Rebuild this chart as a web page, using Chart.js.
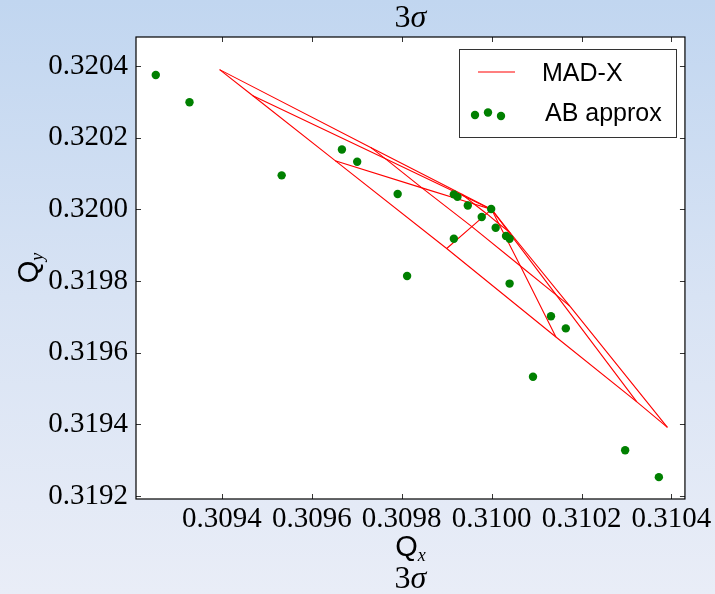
<!DOCTYPE html>
<html>
<head>
<meta charset="utf-8">
<script src="https://cdn.jsdelivr.net/npm/chart.js@4.4.1/dist/chart.umd.min.js"></script>
<style>
html, body { margin: 0; padding: 0; }
body {
  width: 715px; height: 594px; overflow: hidden;
  background: linear-gradient(to bottom, #c1d6f0 0%, #d8e3f4 50%, #e9edf7 100%);
}
canvas { display: block; }
</style>
</head>
<body>
<canvas id="fp" width="715" height="594"></canvas>
<script>
// footprint 3 sigma, MAD-X vs AB approx

// bare tunes (zero amplitude)
const tuneX0 = 0.3100;
const tuneY0 = 0.3200;

// MAD-X footprint points, angle 0..90 deg (15 deg steps), at 1, 2, 3 sigma
const madx1X = [0.309933, 0.309941, 0.309961, 0.309989, 0.310016, 0.310036, 0.310043];
const madx1Y = [0.320043, 0.320035, 0.320015, 0.319988, 0.319960, 0.319940, 0.319932];
const madx2X = [0.309731, 0.309764, 0.309845, 0.309956, 0.310064, 0.310144, 0.310174];
const madx2Y = [0.320173, 0.320141, 0.320060, 0.319952, 0.319842, 0.319761, 0.319730];
const madx3X = [0.309395, 0.309469, 0.309652, 0.309900, 0.310143, 0.310323, 0.310391];
const madx3Y = [0.320390, 0.320317, 0.320136, 0.319891, 0.319644, 0.319463, 0.319392];

// AB approximation
const abX = [0.309253, 0.309328, 0.309533, 0.309667, 0.309701, 0.309791, 0.309812, 0.309916,
             0.309916, 0.309924, 0.309947, 0.309978, 0.309999, 0.310009, 0.310032, 0.310040,
             0.310040, 0.310132, 0.310165, 0.310092, 0.310297, 0.310372];
const abY = [0.320375, 0.320299, 0.320095, 0.320167, 0.320133, 0.320043, 0.319814, 0.319918,
             0.320042, 0.320035, 0.320011, 0.319979, 0.320001, 0.319949, 0.319926, 0.319918,
             0.319793, 0.319702, 0.319668, 0.319533, 0.319328, 0.319253];

// axes
const xTicks = [0.3094, 0.3096, 0.3098, 0.3100, 0.3102, 0.3104];
const yTicks = [0.3192, 0.3194, 0.3196, 0.3198, 0.3200, 0.3202, 0.3204];
const xMin = 0.309209, xMax = 0.310430;
const yMin = 0.319192, yMax = 0.320481;

const serif = '"Liberation Serif", "DejaVu Serif", serif';
const sans = '"Liberation Sans", Arial, sans-serif';

function pts(xs, ys) {
  return xs.map((x, i) => ({ x: x, y: ys[i] }));
}

// lines of constant amplitude + lines of constant angle
let madxLines = [pts(madx1X, madx1Y), pts(madx2X, madx2Y), pts(madx3X, madx3Y)];
for (let k = 0; k < madx3X.length; k++) {
  madxLines.push([
    { x: tuneX0, y: tuneY0 },
    { x: madx1X[k], y: madx1Y[k] },
    { x: madx2X[k], y: madx2Y[k] },
    { x: madx3X[k], y: madx3Y[k] }
  ]);
}

let datasets = [{
  label: 'AB approx',
  data: pts(abX, abY),
  showLine: false,
  pointRadius: 4.2,
  pointBackgroundColor: '#008000',
  pointBorderColor: '#008000',
  pointBorderWidth: 0,
  order: 0
}];
madxLines.forEach(line => {
  datasets.push({
    label: 'MAD-X',
    data: line,
    showLine: true,
    borderColor: '#ff0000',
    borderWidth: 1.1,
    pointRadius: 0,
    fill: false,
    order: 1
  });
});

// draw text runs [text, font, dy] side by side
function runs(ctx, parts, x, y, align) {
  let w = 0;
  parts.forEach(p => { ctx.font = p[1]; w += ctx.measureText(p[0]).width; });
  let cx = align === 'center' ? x - w / 2 : x;
  parts.forEach(p => {
    ctx.font = p[1];
    ctx.fillText(p[0], cx, y + (p[2] || 0));
    cx += ctx.measureText(p[0]).width;
  });
}

const framePlugin = {
  id: 'frame',
  beforeDatasetsDraw(chart) {
    const { ctx, chartArea: a } = chart;
    ctx.save();
    ctx.fillStyle = '#ffffff';
    ctx.fillRect(a.left, a.top, a.right - a.left, a.bottom - a.top);
    ctx.restore();
  },
  afterDatasetsDraw(chart) {
    const { ctx, chartArea: a, scales } = chart;
    ctx.save();
    // inward ticks on all sides
    ctx.strokeStyle = '#000';
    ctx.lineWidth = 0.8;
    ctx.beginPath();
    xTicks.forEach(v => {
      const px = Math.round(scales.x.getPixelForValue(v)) + 0.5;
      ctx.moveTo(px, a.bottom); ctx.lineTo(px, a.bottom - 5);
      ctx.moveTo(px, a.top); ctx.lineTo(px, a.top + 5);
    });
    yTicks.forEach(v => {
      const py = Math.round(scales.y.getPixelForValue(v)) + 0.5;
      ctx.moveTo(a.left, py); ctx.lineTo(a.left + 5, py);
      ctx.moveTo(a.right, py); ctx.lineTo(a.right - 5, py);
    });
    ctx.stroke();
    // frame
    ctx.lineWidth = 1.2;
    ctx.strokeRect(a.left, a.top, a.right - a.left, a.bottom - a.top);

    // legend
    const lx = 459, ly = 49, lw = 217, lh = 88;
    ctx.fillStyle = '#fff';
    ctx.fillRect(lx, ly, lw, lh);
    ctx.lineWidth = 1;
    ctx.strokeStyle = '#333';
    ctx.strokeRect(lx + 0.5, ly + 0.5, lw, lh);
    ctx.strokeStyle = '#ff0000';
    ctx.lineWidth = 1.1;
    ctx.beginPath();
    ctx.moveTo(478, 72); ctx.lineTo(515, 72);
    ctx.stroke();
    ctx.fillStyle = '#008000';
    [[475, 115], [488, 112.5], [501, 116]].forEach(p => {
      ctx.beginPath(); ctx.arc(p[0], p[1], 4.2, 0, Math.PI * 2); ctx.fill();
    });
    ctx.fillStyle = '#000';
    ctx.textBaseline = 'alphabetic';
    ctx.textAlign = 'left';
    ctx.font = '25px ' + sans;
    ctx.fillText('MAD-X', 542, 81);
    ctx.fillText('AB approx', 545, 121);

    // title and axis labels
    const mid = (a.left + a.right) / 2;
    runs(ctx, [['3', '32px ' + serif], ['σ', 'italic 32px ' + serif]], mid, 27, 'center');
    runs(ctx, [['Q', '29px ' + sans], ['x', 'italic 18px ' + serif, 5]], mid, 556, 'center');
    runs(ctx, [['3', '32px ' + serif], ['σ', 'italic 32px ' + serif]], mid, 588, 'center');
    ctx.translate(38, (a.top + a.bottom) / 2);
    ctx.rotate(-Math.PI / 2);
    runs(ctx, [['Q', '29px ' + sans], ['y', 'italic 18px ' + serif, 5]], 0, 0, 'center');
    ctx.restore();
  }
};

new Chart(document.getElementById('fp'), {
  type: 'scatter',
  data: { datasets: datasets },
  options: {
    responsive: false,
    animation: false,
    layout: { padding: { left: 0, right: 27, top: 37, bottom: 0 } },
    plugins: {
      legend: { display: false },
      tooltip: { enabled: false },
      title: { display: false }
    },
    scales: {
      x: {
        type: 'linear',
        min: xMin, max: xMax,
        grid: { display: false, drawTicks: false },
        border: { display: false },
        afterBuildTicks: s => { s.ticks = xTicks.map(v => ({ value: v })); },
        afterFit: s => { s.height = 95; },
        ticks: {
          autoSkip: false, maxRotation: 0, padding: 3,
          color: '#000',
          font: { family: serif, size: 29 },
          callback: v => v.toFixed(4)
        }
      },
      y: {
        type: 'linear',
        min: yMin, max: yMax,
        grid: { display: false, drawTicks: false },
        border: { display: false },
        afterBuildTicks: s => { s.ticks = yTicks.map(v => ({ value: v })); },
        afterFit: s => { s.width = 136; },
        ticks: {
          autoSkip: false, padding: 8,
          color: '#000',
          font: { family: serif, size: 29 },
          callback: v => v.toFixed(4)
        }
      }
    }
  },
  plugins: [framePlugin]
});
</script>
</body>
</html>
